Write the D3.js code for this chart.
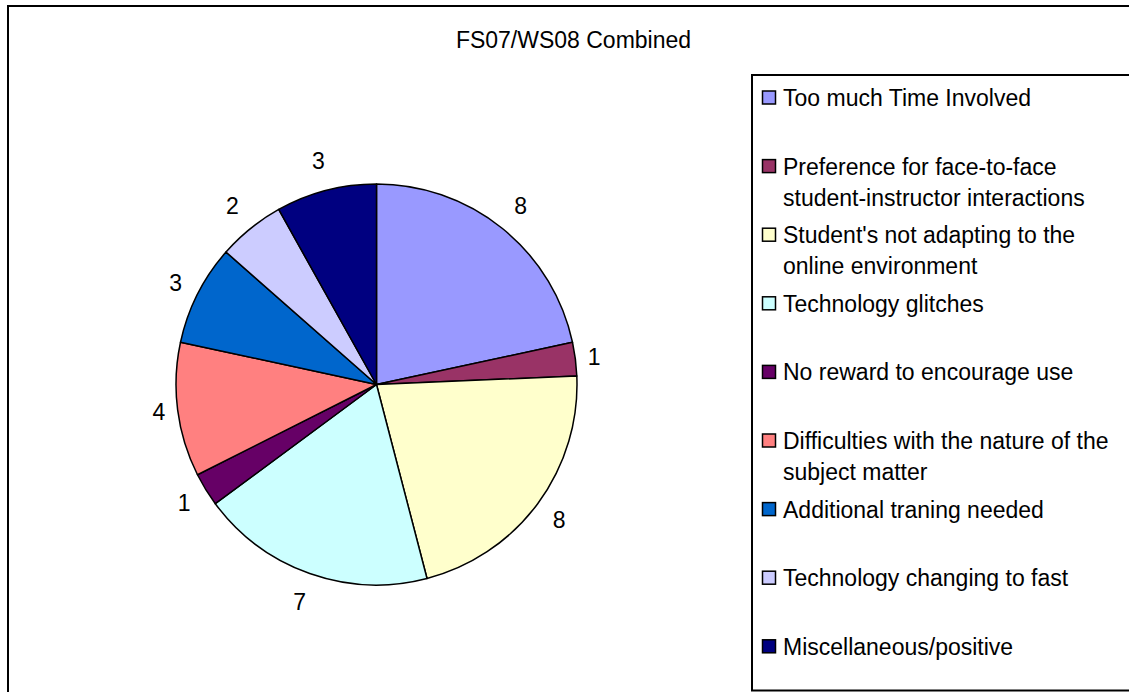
<!DOCTYPE html>
<html>
<head>
<meta charset="utf-8">
<script src="https://cdn.jsdelivr.net/npm/d3@7"></script>
<style>
  body { margin: 0; background: #fff; }
  svg { display: block; font-family: Arial, "Liberation Sans", sans-serif; }
</style>
</head>
<body>
<svg id="chart"></svg>
<script>
const categories = [
  "Too much Time Involved",
  "Preference for face-to-face student-instructor interactions",
  "Student's not adapting to the online environment",
  "Technology glitches",
  "No reward to encourage use",
  "Difficulties with the nature of the subject matter",
  "Additional traning needed",
  "Technology changing to fast",
  "Miscellaneous/positive"
];
const counts = [8, 1, 8, 7, 1, 4, 3, 2, 3];
const colors = ["#9999FF", "#993366", "#FFFFCC", "#CCFFFF", "#660066",
                "#FF8080", "#0066CC", "#CCCCFF", "#000080"];
const title = "FS07/WS08 Combined";

const width = 1129, height = 692;
const cx = 376.5, cy = 384.5, radius = 200.5;
const fontSize = 23;

const svg = d3.select("#chart").attr("width", width).attr("height", height);

// outer chart border (runs off the right and bottom edges)
svg.append("rect")
  .attr("x", 8).attr("y", 6)
  .attr("width", 1200).attr("height", 800)
  .attr("fill", "none").attr("stroke", "#000").attr("stroke-width", 2);

svg.append("text")
  .attr("x", 573.5).attr("y", 48)
  .attr("text-anchor", "middle")
  .attr("font-size", fontSize)
  .text(title);

const pie = d3.pie().sort(null).value(d => d)(counts);
const arc = d3.arc().innerRadius(0).outerRadius(radius);

const g = svg.append("g").attr("transform", `translate(${cx},${cy})`);

g.selectAll("path.slice")
  .data(pie)
  .join("path")
  .attr("class", "slice")
  .attr("d", arc)
  .attr("fill", (d, i) => colors[i])
  .attr("stroke", "#000")
  .attr("stroke-width", 1.5)
  .attr("stroke-linejoin", "round");

// value labels outside the pie
const gap = 10, halfW = 6.5, halfH = 19;
const labelPos = d => {
  const a = (d.startAngle + d.endAngle) / 2;
  const r = radius + gap + Math.abs(Math.sin(a)) * halfW + Math.abs(Math.cos(a)) * halfH;
  return [r * Math.sin(a), -r * Math.cos(a)];
};
g.selectAll("text.lbl")
  .data(pie)
  .join("text")
  .attr("class", "lbl")
  .attr("font-size", fontSize)
  .attr("text-anchor", "middle")
  .attr("dy", "0.35em")
  .attr("x", d => labelPos(d)[0])
  .attr("y", d => labelPos(d)[1])
  .text(d => d.data);

// legend
svg.append("rect")
  .attr("x", 752).attr("y", 75)
  .attr("width", 500).attr("height", 615.5)
  .attr("fill", "none").attr("stroke", "#000").attr("stroke-width", 2);

const rowStep = 68.6, firstRow = 98, lineGap = 31, maxW = 345;
const leg = svg.append("g");

categories.forEach((name, i) => {
  const y = firstRow + i * rowStep;
  leg.append("rect")
    .attr("x", 762.5).attr("y", y - 7)
    .attr("width", 13).attr("height", 13)
    .attr("fill", colors[i]).attr("stroke", "#000").attr("stroke-width", 1.5);

  const t = leg.append("text").attr("font-size", fontSize);

  // wrap words to fit the legend box
  const words = name.split(" ");
  let line = [], lineNo = 0;
  let tspan = t.append("tspan").attr("x", 783).attr("y", y).attr("dy", "0.35em");
  words.forEach(w => {
    line.push(w);
    tspan.text(line.join(" "));
    if (tspan.node().getComputedTextLength() > maxW && line.length > 1) {
      line.pop();
      tspan.text(line.join(" "));
      line = [w];
      lineNo++;
      tspan = t.append("tspan").attr("x", 783).attr("y", y + lineNo * lineGap)
        .attr("dy", "0.35em").text(w);
    }
  });
});
</script>
</body>
</html>
